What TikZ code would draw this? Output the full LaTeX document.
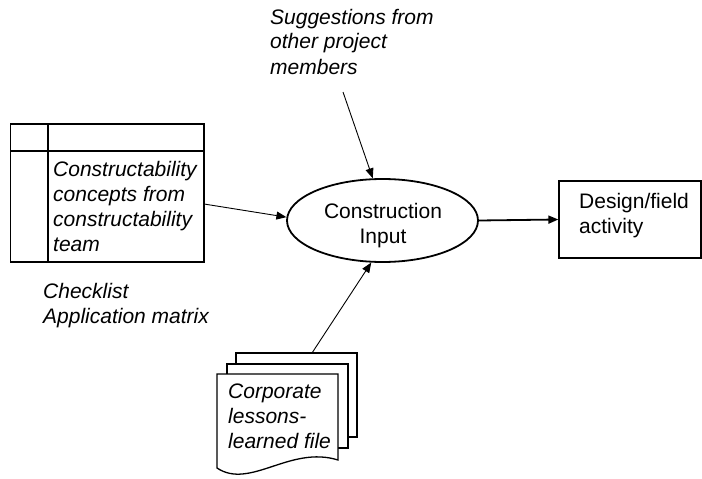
\documentclass[tikz,border=0pt]{standalone}
\usepackage{fontspec}
\setmainfont{Liberation Sans}
\usetikzlibrary{shapes.geometric,arrows.meta}
\begin{document}
\begin{tikzpicture}[x=1pt,y=-1pt,
  every node/.style={font=\fontsize{21}{25}\selectfont},
  txt/.style={inner sep=0pt, align=left, anchor=base west},
  itxt/.style={txt, font=\fontsize{21}{25}\selectfont\itshape},
  shapeline/.style={draw=black, line width=1.3pt},
  page/.style={draw=black, line width=1.3pt, fill=white},
  conn/.style={draw=black, line width=0.9pt, -{Triangle[length=10pt,width=8pt]}},
  thickconn/.style={draw=black, line width=1.8pt, -{Triangle[length=10pt,width=8pt]}}
]
\useasboundingbox (0,0) rectangle (702,479);

% table (checklist / application matrix)
\node[shapeline, rectangle, minimum width=193.3pt, minimum height=138pt, inner sep=0pt] (tbl) at (107.35,193) {};
\draw[line width=1.3pt] (48,124) -- (48,262);
\draw[line width=1.3pt] (10.7,151) -- (204,151);
\node[itxt] (tbltxt) at (53,251) {Constructability\\concepts from\\constructability\\team};
\node[itxt] (chk) at (43,323) {Checklist\\Application matrix};

% suggestions
\node[itxt] (sug) at (270,74) {Suggestions from\\other project\\members};

% ellipse
\node[draw=black, line width=1.8pt, ellipse, minimum width=191pt, minimum height=83pt, inner sep=0pt] (ci) at (382.5,220.5) {};
\node[inner sep=0pt, align=center, anchor=base] (citxt) at (383,243) {Construction\\Input};

% design box
\node[shapeline, rectangle, minimum width=142pt, minimum height=77pt, inner sep=0pt] (dfa) at (630,219.5) {};
\node[txt] (dfatxt) at (579,233) {Design/field\\activity};

% document stack
\draw[page] (236,353) rectangle (357,437);
\draw[page] (227,364) rectangle (348,448);
\draw[page] (217,374) -- (338,374) -- (338,460) .. controls (290,445) and (250,490) .. (217,468) -- cycle;
\node[itxt] (doc) at (228,448) {Corporate\\lessons-\\learned file};

% connectors
\coordinate (sugEnd) at (343,92);
\coordinate (tblOut) at (204,204);
\coordinate (docTop) at (312,353);
\draw[conn] (sugEnd) -- (ci.103);
\draw[conn] (tblOut) -- (ci.178);
\draw[conn] (docTop) -- (ci.255);
\draw[thickconn] (ci.east) -- (dfa.west);
\end{tikzpicture}
\end{document}
